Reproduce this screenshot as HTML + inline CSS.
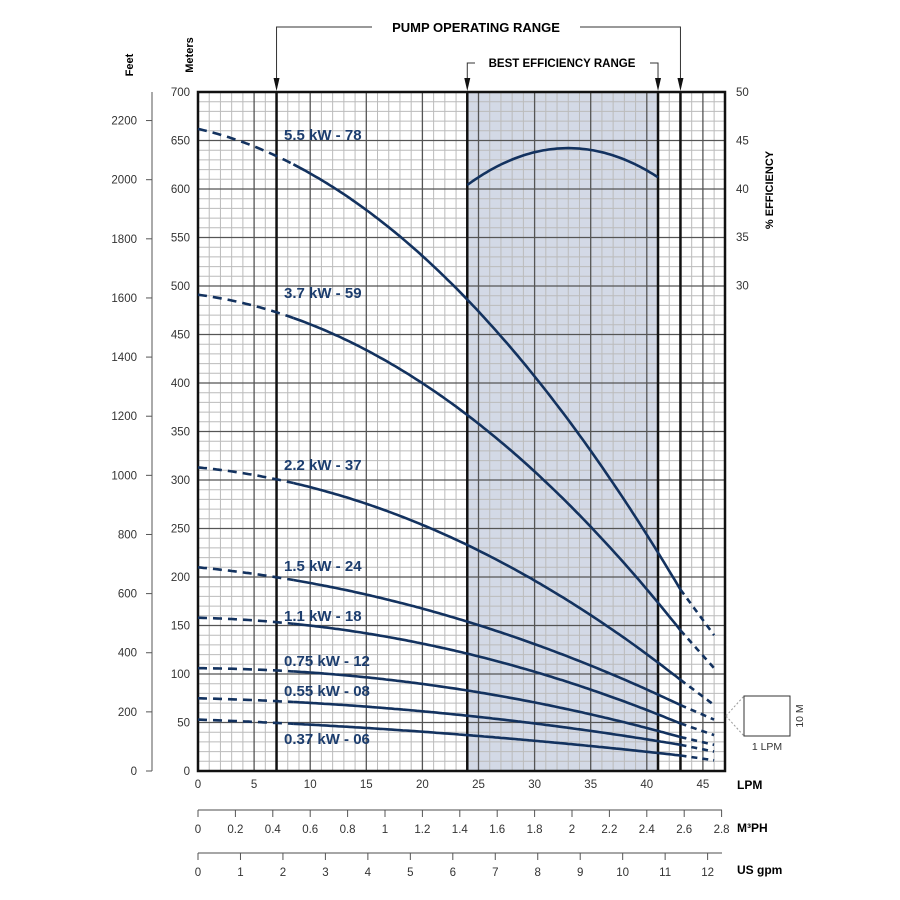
<!DOCTYPE html>
<html><head><meta charset="utf-8"><style>
html,body{margin:0;padding:0;background:#fff;}
svg{display:block;font-family:"Liberation Sans",Arial,sans-serif;}
</style></head><body>
<svg id="s" width="900" height="900" viewBox="0 0 900 900" xmlns="http://www.w3.org/2000/svg"></svg>
<script>
const s=document.getElementById('s');
const X=q=>198+q*11.22, Y=m=>771-m*0.97;
let h='';
h+=`<rect x="${X(24)}" y="92" width="${X(41)-X(24)}" height="679" fill="#d3d9e6"/>`;
for(let q=1;q<47;q++){if(q%5)h+=`<line x1="${X(q)}" y1="92" x2="${X(q)}" y2="771" stroke="#bbb" stroke-width="1"/>`;}
for(let m=10;m<700;m+=10){if(m%50)h+=`<line x1="198" y1="${Y(m)}" x2="725" y2="${Y(m)}" stroke="#bbb" stroke-width="1"/>`;}
for(let q=5;q<47;q+=5)h+=`<line x1="${X(q)}" y1="92" x2="${X(q)}" y2="771" stroke="#555" stroke-width="1.3"/>`;
for(let m=50;m<700;m+=50)h+=`<line x1="198" y1="${Y(m)}" x2="725" y2="${Y(m)}" stroke="#555" stroke-width="1.3"/>`;
h+=`<rect x="198" y="92" width="527" height="679" fill="none" stroke="#111" stroke-width="2.5"/>`;
[7,24,41,43].forEach(q=>h+=`<line x1="${X(q)}" y1="92" x2="${X(q)}" y2="771" stroke="#111" stroke-width="2.5"/>`);
for(let m=0;m<=700;m+=50)h+=`<text x="190" y="${Y(m)+4}" font-size="11.5" text-anchor="end" fill="#333">${m}</text>`;
h+=`<line x1="152" y1="92" x2="152" y2="771" stroke="#555" stroke-width="1"/>`;
for(let f=0;f<=2200;f+=200){let y=Y(f*0.3048);h+=`<line x1="146" y1="${y}" x2="152" y2="${y}" stroke="#555"/><text x="137" y="${y+4}" font-size="11.5" text-anchor="end" fill="#333">${f}</text>`;}
h+=`<text transform="translate(133,65) rotate(-90)" font-size="11" font-weight="bold" text-anchor="middle">Feet</text>`;
h+=`<text transform="translate(193,55) rotate(-90)" font-size="11" font-weight="bold" text-anchor="middle">Meters</text>`;
[50,45,40,35,30].forEach(e=>h+=`<text x="736" y="${92+(50-e)*9.68+4}" font-size="11.5" fill="#333">${e}</text>`);
h+=`<text transform="translate(773,190) rotate(-90)" font-size="11" font-weight="bold" text-anchor="middle">% EFFICIENCY</text>`;
for(let q=0;q<=45;q+=5)h+=`<text x="${X(q)}" y="788" font-size="11.5" text-anchor="middle" fill="#333">${q}</text>`;
h+=`<text x="737" y="789" font-size="12" font-weight="bold">LPM</text>`;
h+=`<line x1="198" y1="810" x2="722" y2="810" stroke="#888" stroke-width="1.5"/>`;
for(let i=0;i<=14;i++){let v=i*0.2,x=X(v/0.06);h+=`<line x1="${x}" y1="810" x2="${x}" y2="817" stroke="#555"/><text x="${x}" y="833" font-size="11.5" text-anchor="middle" fill="#333">${+v.toFixed(1)}</text>`;}
h+=`<text x="737" y="832" font-size="12" font-weight="bold">M³PH</text>`;
h+=`<line x1="198" y1="853" x2="722" y2="853" stroke="#888" stroke-width="1.5"/>`;
for(let g=0;g<=12;g++){let x=X(g*3.785);h+=`<line x1="${x}" y1="853" x2="${x}" y2="860" stroke="#555"/><text x="${x}" y="876" font-size="11.5" text-anchor="middle" fill="#333">${g}</text>`;}
h+=`<text x="737" y="874" font-size="12" font-weight="bold">US gpm</text>`;
h+=`<path d="M${X(7)} 88 V27 H372 M580 27 H${X(43)} V88" fill="none" stroke="#333" stroke-width="1"/>`;
h+=`<text x="476" y="32" font-size="13" font-weight="bold" text-anchor="middle">PUMP OPERATING RANGE</text>`;
h+=`<path d="M${X(24)} 88 V63 H475 M650 63 H${X(41)} V88" fill="none" stroke="#333" stroke-width="1"/>`;
h+=`<text x="562" y="67" font-size="11.5" font-weight="bold" text-anchor="middle">BEST EFFICIENCY RANGE</text>`;
[7,24,41,43].forEach(q=>{let x=X(q);h+=`<polygon points="${x-3},78 ${x+3},78 ${x},91" fill="#111"/>`;});
const C=[["5.5 kW - 78",662,486,187,140,140],["3.7 kW - 59",491,367,145,106,298],["2.2 kW - 37",313,233,94,68,470],["1.5 kW - 24",210,154,68,53,571],["1.1 kW - 18",158,121,49,37,621],["0.75 kW - 12",106,83,35,27,666],["0.55 kW - 08",75,57,27,20,696],["0.37 kW - 06",53,37,16,11,744]];
C.forEach(c=>{
 const [lab,a0,a24,a43,a46,ly]=c;
 const cc=a0;const r1=a24-cc,r2=a43-cc;
 const a=(r2/43-r1/24)/(43-24);const b=r1/24-a*24;
 const f=q=>q<=43?a*q*q+b*q+cc:a43+(a46-a43)*(q-43)/3;
 const pts=(q0,q1)=>{let p=[];for(let q=q0;q<=q1+1e-6;q+=0.25)p.push(X(q).toFixed(1)+','+Y(f(q)).toFixed(1));return p.join(' ');};
 h+=`<polyline points="${pts(0,8.5)}" fill="none" stroke="#13325f" stroke-width="2.6" stroke-dasharray="9,6"/>`;
 h+=`<polyline points="${pts(8.5,43)}" fill="none" stroke="#13325f" stroke-width="2.6"/>`;
 h+=`<polyline points="${pts(43,46)}" fill="none" stroke="#13325f" stroke-width="2.6" stroke-dasharray="6,5"/>`;
 h+=`<text x="284" y="${ly}" font-size="15" font-weight="bold" fill="#1c3d6e">${lab}</text>`;
});
(function(){let p=[];for(let q=24;q<=41;q+=0.25){let e=44.2-((q-33)*(q-33))*0.047;p.push(X(q).toFixed(1)+','+(92+(50-e)*9.68).toFixed(1));}
h+=`<polyline points="${p.join(' ')}" fill="none" stroke="#13325f" stroke-width="2.6"/>`;})();
h+=`<rect x="744" y="696" width="46" height="40" fill="#fff" stroke="#333" stroke-width="1"/>`;
h+=`<path d="M726 716 L744 696 M726 716 L744 736" stroke="#999" stroke-dasharray="2,2"/>`;
h+=`<text x="767" y="750" font-size="10.5" text-anchor="middle" fill="#333">1 LPM</text>`;
h+=`<text transform="translate(803,716) rotate(-90)" font-size="10.5" text-anchor="middle" fill="#333">10 M</text>`;
s.innerHTML=h;
</script>
</body></html>
